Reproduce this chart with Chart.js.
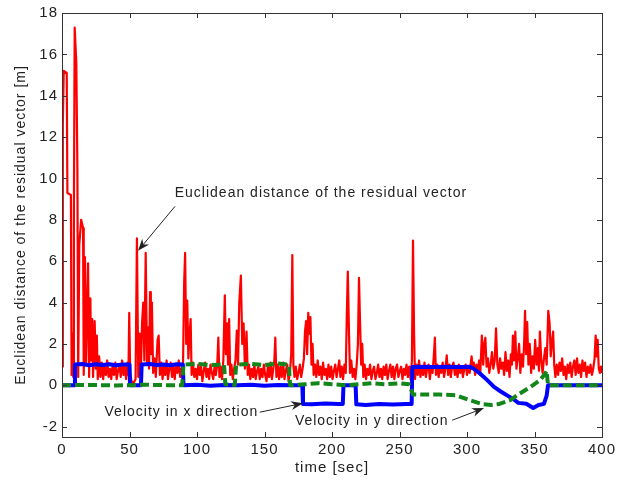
<!DOCTYPE html>
<html>
<head>
<meta charset="utf-8">
<script src="https://cdn.jsdelivr.net/npm/chart.js@4"></script>
<style>
html, body { margin: 0; padding: 0; background: #fff; }
</style>
</head>
<body>
<canvas id="chart" width="627" height="484"></canvas>
<script>
"use strict";

// tick labels
var xTicks = [0, 50, 100, 150, 200, 250, 300, 350, 400];
var yTicks = [-2, 0, 2, 4, 6, 8, 10, 12, 14, 16, 18];

// Euclidean distance of the residual vector [time, metres]
var residual = [
  [0,0.9],[0.6,12.6],[1.3,15.2],[3.5,15.1],[4,9.3],[6.6,9.2],[7.1,0.5],[7.8,2.5],[8.3,0.4],[8.8,8.4],
  [9.4,17.3],[10.6,15.6],[11.4,10.5],[12,0.4],[12.8,6.8],[14.2,8.0],[15.6,7.6],[16.1,0.5],[17,6.2],[17.8,1.0],
  [19.3,5.9],[20.1,0.4],[21,4.2],[21.6,1.2],[22.4,3.2],[23,0.4],[24.2,3.1],[25,0.8],[25.8,2.4],[26.5,0.3],
  [27.5,1.4],[28.5,0.4],[29.5,1.1],[30.5,0.3],[31.5,0.9],[32.5,0.5],[33.5,1.2],[34.5,0.4],[35.5,0.8],[36.5,0.3],
  [37.5,1.0],[38.5,0.5],[39.5,1.1],[40.5,0.3],[41.5,0.7],[42.5,1.0],[43.5,0.4],[44.5,1.2],[45.5,0.5],[46.5,0.9],
  [47.5,0.3],[48.5,1.1],[49.2,0.5],[49.8,3.5],[50.5,0.6],[51.5,0.2],[53,0.1],[54.5,0.3],[55.5,7.1],[56.5,0.4],
  [57.5,2.5],[58.3,0.3],[59.3,3.0],[60.2,4.0],[61,1.2],[62,6.4],[63,1.0],[63.8,2.8],[64.5,0.8],[65.2,4.5],
  [65.8,1.5],[66.6,4.0],[67.5,0.6],[68.5,1.3],[69.5,0.4],[70.8,2.2],[71.6,2.4],[72.5,0.5],[73.5,1.1],[74.5,0.3],
  [75.5,0.9],[76.5,0.5],[77.5,1.2],[78.5,0.3],[79.5,0.8],[80.5,1.1],[81.5,0.4],[82.5,0.9],[83.5,0.3],[84.5,1.0],
  [85.5,0.6],[86.5,1.2],[87.5,0.4],[88.5,0.8],[89.5,0.3],[90.5,5.0],[91.2,6.4],[92,2.0],[92.8,4.1],[93.6,1.3],
  [94.5,2.5],[95.3,3.2],[96,0.5],[97,1.1],[98,0.4],[99,0.8],[100,0.3],[101,1.0],[102,0.5],[103,0.9],
  [104,0.2],[105,0.7],[106,1.1],[107,0.4],[108,0.8],[109,0.3],[110,1.0],[111,0.6],[112,0.3],[113,0.9],
  [114,0.5],[115,1.0],[115.8,2.3],[116.6,0.4],[117.5,0.9],[118.5,0.3],[119.5,1.2],[120.6,4.35],[121.4,1.5],[122.2,3.0],
  [123,1.0],[123.8,3.2],[124.6,0.5],[125.5,1.0],[126.5,0.3],[127.5,0.8],[128.5,1.2],[129.5,2.65],[130.4,1.0],[131.3,4.0],
  [132.5,5.3],[133.5,2.0],[134.5,3.0],[135.5,0.8],[136.7,2.6],[137.6,0.5],[138.5,1.0],[139.5,0.3],[140.5,0.8],[141.5,0.4],
  [142.5,1.0],[143.5,0.3],[144.5,0.7],[145.5,0.9],[146.5,0.3],[147.5,0.8],[148.5,0.4],[149.5,1.0],[150.5,0.5],[151.5,0.2],
  [152.5,0.9],[153.5,0.4],[154.5,1.1],[155.5,0.3],[156.5,0.8],[157.3,1.2],[158,2.3],[158.8,0.4],[159.8,1.0],[160.8,0.3],
  [161.8,0.9],[162.8,0.4],[163.8,1.1],[164.8,0.3],[165.8,0.7],[166.8,1.0],[167.8,0.2],[168.8,0.6],[169.8,1.5],[170.6,6.3],
  [171.4,1.0],[172.2,0.4],[173.2,0.9],[174.2,0.3],[175.2,0.6],[176.2,1.0],[177.2,0.4],[178.2,0.8],[179.2,1.3],[180,2.6],
  [180.8,3.1],[181.6,1.5],[182.4,3.5],[183.2,2.5],[184,3.3],[184.8,1.0],[185.6,2.0],[186.4,0.5],[187.4,1.0],[188.4,0.4],
  [189.4,1.2],[190.4,0.5],[191.4,0.9],[192.4,0.3],[193.4,1.1],[194.4,0.5],[195.4,0.8],[196.4,0.3],[197.4,1.0],[198.4,0.4],
  [199.4,0.9],[200.4,0.3],[201.4,0.7],[202.4,1.0],[203.4,0.4],[204.4,0.8],[205.4,1.2],[206.2,0.4],[207.2,0.9],[208.2,0.3],
  [209.2,1.0],[210.2,0.6],[211,3.5],[211.7,5.5],[212.5,2.8],[213.3,0.6],[214.3,1.2],[215.3,0.4],[216.3,0.8],[217.3,0.3],
  [218.3,1.0],[219.2,2.0],[220,5.2],[220.8,3.0],[221.6,1.0],[222.4,2.0],[223.2,0.4],[224.2,1.0],[225.2,0.3],[226.2,0.8],
  [227.2,0.5],[228.2,1.0],[229.2,0.3],[230.2,0.7],[231.2,0.9],[232.2,0.3],[233.2,0.6],[234.2,1.0],[235.2,0.4],[236.2,0.8],
  [237.2,0.3],[238.2,0.9],[239.2,0.5],[240.2,1.0],[241.2,0.3],[242.2,0.7],[243.2,1.0],[244.2,0.4],[245.2,0.9],[246.2,0.3],
  [247.2,0.8],[248.2,1.0],[249.2,0.4],[250.2,0.7],[251.2,0.9],[252.2,0.3],[253.2,0.8],[254.2,0.5],[255.2,1.0],[256.2,0.4],
  [257.2,0.9],[258.2,0.3],[259.2,1.2],[260,7.0],[260.8,2.5],[261.5,0.3],[262.5,1.0],[263.5,0.5],[264.5,1.2],[265.5,0.4],
  [266.5,0.9],[267.5,0.5],[268.5,1.1],[269.5,0.4],[270.5,0.8],[271.5,1.0],[272.5,0.3],[273.5,0.9],[274.5,0.6],[275.5,1.5],
  [276.2,2.3],[277,0.5],[278,1.0],[279,0.4],[280,0.9],[281,0.6],[282,1.1],[283,0.4],[284,0.8],[285,1.45],
  [286,0.5],[287,1.0],[288,0.4],[289,0.9],[290,1.1],[291,0.5],[292,0.8],[293,0.4],[294,1.0],[295,0.6],
  [296,0.9],[297,0.4],[298,0.8],[299,1.0],[300,0.5],[301,0.9],[302,0.6],[303.4,1.4],[304.2,0.8],[305,1.1],
  [306,0.5],[307,1.0],[308,0.6],[309,1.2],[309.8,0.5],[311,2.4],[312,1.0],[312.8,2.0],[313.6,2.3],[314.5,0.9],
  [315.5,1.3],[316.5,0.6],[317.5,1.0],[318.5,1.6],[319.5,0.8],[320.5,1.2],[321.5,2.75],[322.5,1.0],[323.5,0.6],[324.5,1.3],
  [325.5,0.8],[326.5,1.1],[327.5,0.5],[328.5,1.6],[329.5,0.7],[330.5,1.2],[331.5,0.4],[332.5,1.5],[333.3,1.0],[334,2.4],
  [335,1.2],[335.8,2.6],[336.6,0.8],[337.6,1.3],[338.6,2.0],[339.5,0.6],[340.5,1.5],[341.5,0.9],[342.3,2.0],[343,3.6],
  [343.8,1.5],[344.6,3.05],[345.5,1.0],[346.5,2.0],[347.5,0.6],[348.5,1.4],[349.5,0.8],[350.5,2.2],[351.5,1.0],[352.5,1.8],
  [353.3,0.7],[354,2.6],[355,1.2],[356,0.6],[357,1.3],[358,1.8],[359,1.0],[360.2,3.6],[361.2,3.0],[362,1.4],
  [362.8,2.0],[363.8,2.6],[364.6,1.0],[365.5,0.4],[366.5,1.0],[367.5,0.5],[368.5,1.1],[369.5,0.7],[370.5,1.3],[371.5,0.5],
  [372.5,0.9],[373.5,0.3],[374.5,1.0],[375.5,0.6],[376.5,1.1],[377.5,0.4],[378.5,0.9],[379.5,1.2],[380.5,0.5],[381.5,1.3],
  [382.5,0.6],[383.5,1.0],[384.5,0.4],[385.5,1.2],[386.5,0.7],[387.5,1.1],[388.5,0.4],[389.5,0.9],[390.5,0.6],[391.5,1.0],
  [392.5,0.5],[393.5,0.8],[394.5,1.3],[395.3,2.4],[396,1.4],[396.8,2.2],[397.6,0.8],[398.5,0.6],[399.3,0.9],[400,0.6]
];

// Velocity in x direction [time, m/s]
var velocityX = [
  [0,0],[9.3,0],[9.6,1.0],[15,1.03],[20,0.97],[25,1.02],[30,0.98],[35,1.02],[40,0.97],[45,1.01],[50,1.0],
  [50.4,0],[58.5,0],[59,1.0],[65,1.03],[70,0.98],[75,1.0],[80,0.97],[85,1.02],[89.5,1.0],[90,0],
  [100,0.03],[110,-0.02],[120,0.02],[130,0],[140,0.03],[150,-0.02],[160,0.02],[170,0],[178,0],
  [178.5,-0.9],[185,-0.92],[195,-0.88],[205,-0.9],[208,-0.9],[208.5,0],[217.5,0],[218,-0.92],
  [225,-0.95],[235,-0.9],[245,-0.93],[255,-0.9],[259,-0.9],[259.5,0.88],[265,0.9],[275,0.88],
  [285,0.9],[295,0.88],[302,0.9],[305,0.8],[310,0.55],[315,0.25],[320,-0.08],[325,-0.3],[330,-0.5],
  [335,-0.7],[338,-0.85],[344,-0.89],[349,-1.1],[353,-0.95],[357,-0.9],[359,-0.5],[360,0],[400,0]
];

// Velocity in y direction [time, m/s]
var velocityY = [
  [0,0],[20,0.02],[40,-0.01],[60,0.03],[80,0],[89,0],[90,1.0],[100,1.03],[110,0.98],[120,1.0],
  [121,0.05],[128,0.02],[129,1.0],[140,1.03],[150,0.98],[160,1.05],[168,1.0],[169,0],[180,0.05],
  [190,0.1],[200,0.05],[210,0],[220,0.05],[230,0.1],[240,0.05],[250,0.1],[257,0.05],[258,-0.1],
  [260,-0.45],[270,-0.45],[280,-0.45],[292,-0.48],[302,-0.72],[312,-0.92],[318,-0.95],[324,-0.9],
  [332,-0.72],[339,-0.4],[347,-0.08],[354,0.24],[358,0.57],[359,0.7],[360,0],[400,0]
];

// text notes with arrows, in data coordinates
var notes = [
  { text: "Euclidean distance of the residual vector", at: [83.5, 9.3], from: [83.7, 8.65], to: [56.3, 6.5] },
  { text: "Velocity in x direction", at: [31.5, -1.3], from: [146.5, -1.3], to: [178.5, -0.87] },
  { text: "Velocity in y direction", at: [172.5, -1.74], from: [289, -1.69], to: [312.6, -1.1] }
];

var FONT = "'Liberation Sans', Arial, sans-serif";

function toXY(pairs) {
  return pairs.map(function (p) { return { x: p[0], y: p[1] }; });
}

function arrow(ctx, x0, y0, x1, y1) {
  var a = Math.atan2(y1 - y0, x1 - x0);
  var len = 12, half = 4.5;
  ctx.beginPath();
  ctx.moveTo(x0, y0);
  ctx.lineTo(x1 - Math.cos(a) * 8, y1 - Math.sin(a) * 8);
  ctx.stroke();
  ctx.save();
  ctx.translate(x1, y1);
  ctx.rotate(a);
  ctx.beginPath();
  ctx.moveTo(0, 0);
  ctx.lineTo(-len, -half);
  ctx.lineTo(-len * 0.7, 0);
  ctx.lineTo(-len, half);
  ctx.closePath();
  ctx.fill();
  ctx.restore();
}

// MATLAB-ish text is a bit wider than Liberation Sans
var spacing = {
  id: "spacing",
  beforeUpdate: function (chart) { chart.ctx.letterSpacing = "1px"; },
  beforeDraw: function (chart) { chart.ctx.letterSpacing = "1px"; }
};

var frame = {
  id: "frame",
  afterDatasetsDraw: function (chart) {
    var ctx = chart.ctx, a = chart.chartArea;
    var sx = chart.scales.x, sy = chart.scales.y;
    ctx.save();
    ctx.strokeStyle = "#333";
    ctx.lineWidth = 1;
    ctx.strokeRect(a.left + 0.5, a.top + 0.5, a.right - a.left, a.bottom - a.top);
    ctx.beginPath();
    sx.ticks.forEach(function (t) {
      var px = Math.round(sx.getPixelForValue(t.value)) + 0.5;
      ctx.moveTo(px, a.bottom); ctx.lineTo(px, a.bottom - 5);
      ctx.moveTo(px, a.top); ctx.lineTo(px, a.top + 5);
    });
    sy.ticks.forEach(function (t) {
      var py = Math.round(sy.getPixelForValue(t.value)) + 0.5;
      ctx.moveTo(a.left, py); ctx.lineTo(a.left + 5, py);
      ctx.moveTo(a.right, py); ctx.lineTo(a.right - 5, py);
    });
    ctx.stroke();

    ctx.fillStyle = "#222";
    ctx.strokeStyle = "#222";
    ctx.lineWidth = 1;
    ctx.letterSpacing = "1px";
    ctx.font = "14px " + FONT;
    ctx.textBaseline = "middle";
    ctx.textAlign = "left";
    notes.forEach(function (n) {
      ctx.fillText(n.text, sx.getPixelForValue(n.at[0]), sy.getPixelForValue(n.at[1]));
      arrow(ctx, sx.getPixelForValue(n.from[0]), sy.getPixelForValue(n.from[1]),
                 sx.getPixelForValue(n.to[0]), sy.getPixelForValue(n.to[1]));
    });
    ctx.restore();
  }
};

var tickFont = { family: FONT, size: 15 };

var ctx = document.getElementById("chart").getContext("2d");
var myChart = new Chart(ctx, {
  type: "line",
  data: {
    datasets: [
      { data: toXY(velocityY), borderColor: "#12861a", borderWidth: 4, borderDash: [9, 4], order: 0 },
      { data: toXY(velocityX), borderColor: "#0000ff", borderWidth: 4, order: 1 },
      { data: toXY(residual), borderColor: "#ff0000", borderWidth: 2.2, order: 2 }
    ]
  },
  options: {
    responsive: false,
    animation: false,
    devicePixelRatio: 1,
    layout: { padding: { top: 13, right: 25, left: 0, bottom: 0 } },
    elements: { point: { radius: 0 }, line: { tension: 0, borderJoinStyle: "round" } },
    plugins: { legend: { display: false }, tooltip: { enabled: false } },
    scales: {
      x: {
        type: "linear", min: 0, max: 400,
        grid: { display: false, drawTicks: false },
        border: { display: false },
        afterBuildTicks: function (s) { s.ticks = xTicks.map(function (v) { return { value: v }; }); },
        afterFit: function (s) { s.height = 47; },
        ticks: { padding: 4, color: "#222", font: tickFont, maxRotation: 0, autoSkip: false },
        title: { display: true, text: "time [sec]", color: "#222", font: tickFont, padding: { top: 0, bottom: 7 } }
      },
      y: {
        type: "linear", min: -2.5, max: 18,
        grid: { display: false, drawTicks: false },
        border: { display: false },
        afterBuildTicks: function (s) { s.ticks = yTicks.map(function (v) { return { value: v }; }); },
        afterFit: function (s) { s.width = 62; },
        ticks: { padding: 4, color: "#222", font: tickFont, autoSkip: false },
        title: { display: true, text: "Euclidean distance of the residual vector [m]", color: "#222",
                 font: { family: FONT, size: 14 }, padding: { top: 13, bottom: 0 } }
      }
    }
  },
  plugins: [spacing, frame]
});
</script>
</body>
</html>
